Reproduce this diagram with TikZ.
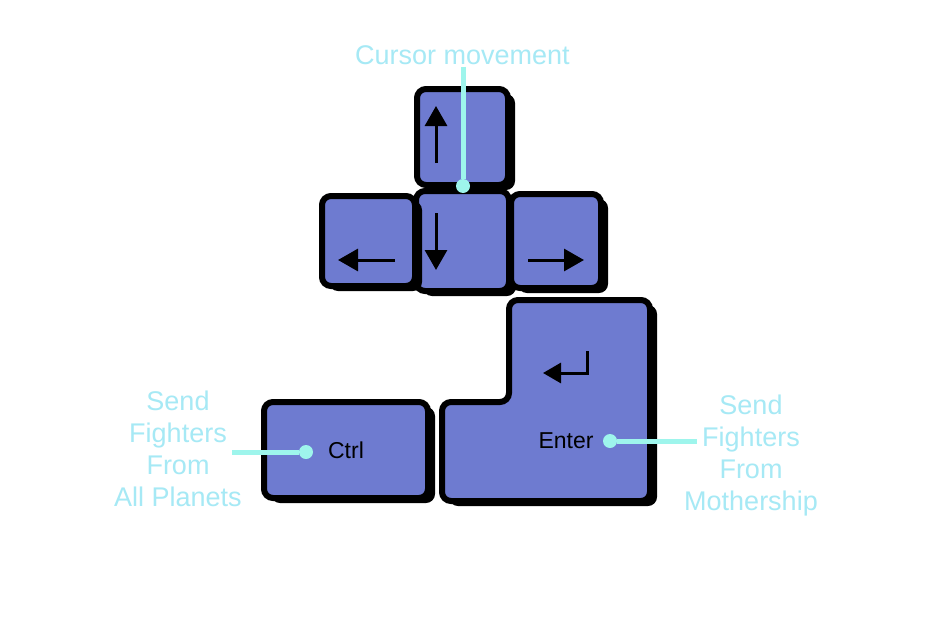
\documentclass[tikz,border=0pt]{standalone}
\usepackage{fontspec}
\setmainfont{Liberation Sans}
\usetikzlibrary{positioning, shadows, arrows.meta}

\definecolor{keyblue}{RGB}{110,123,208}
\definecolor{tagcyan}{RGB}{166,233,245}
\definecolor{pincyan}{RGB}{158,245,236}

\tikzset{
  key/.style={draw=black, fill=keyblue, line width=6pt, rounded corners=9pt, inner sep=0pt,
    font=\fontsize{23}{27}\selectfont,
    drop shadow={shadow xshift=7pt, shadow yshift=-5pt, fill=black, opacity=1}},
  tag/.style={text=tagcyan, font=\fontsize{27}{32}\selectfont, align=center, inner sep=2pt},
  pin/.style={draw=pincyan, line width=5pt},
  dot/.style={circle, fill=pincyan, inner sep=0pt, minimum size=14pt},
  glyph/.style={line width=3pt, -{Triangle[length=20pt, width=22pt]}}
}

\begin{document}
\begin{tikzpicture}[x=1pt, y=-1pt]
  \fill[white] (0,0) rectangle (948,616);
  \useasboundingbox (0,0) rectangle (948,616);

  % arrow keys
  \node[key, minimum width=91pt, minimum height=96pt] (up) at (462.5,137) {};
  \node[key, minimum width=93pt, minimum height=100pt] (down) [below=0pt of up] {};
  \node[key, minimum width=93pt, minimum height=90pt] (left) [left=-5pt of down] {};
  \node[key, minimum width=90pt, minimum height=94pt] (right) [right=-4pt of down] {};

  \draw[glyph] (436,163) -- (436,106);
  \draw[glyph] (436,213) -- (436,270);
  \draw[glyph] (395,260) -- (338,260);
  \draw[glyph] (528,260) -- (584,260);

  % ctrl and enter
  \node[key, minimum width=164pt, minimum height=96pt] (ctrl) at (346,450) {Ctrl};
  \path[key] (509,300) -- (650,300) -- (650,501) -- (442,501)
    -- (442,402) -- (509,402) -- cycle;
  \node[font=\fontsize{23}{27}\selectfont] (enter) at (566,441) {Enter};
  \draw[glyph, -{Triangle[length=18pt, width=20pt]}] (587,351) -- (587,373) -- (543,373);

  % labels
  \node[tag] (cursortag) at (462.5,55) {Cursor movement};
  \node[dot] (cursordot) at (463,186) {};
  \draw[pin] (cursortag.south -| cursordot) -- (cursordot);

  \node[tag] (planetstag) at (178,449) {Send\\Fighters\\From\\All Planets};
  \node[dot] (ctrldot) at (306,452) {};
  \coordinate (ctrlend) at (232,452);
  \draw[pin] (ctrlend) -- (ctrldot);

  \node[tag] (mothertag) at (751,456) {Send\\Fighters\\From\\Mothership};
  \node[dot] (enterdot) at (610,441) {};
  \coordinate (enterend) at (697,441);
  \draw[pin] (enterdot) -- (enterend);
\end{tikzpicture}
\end{document}
